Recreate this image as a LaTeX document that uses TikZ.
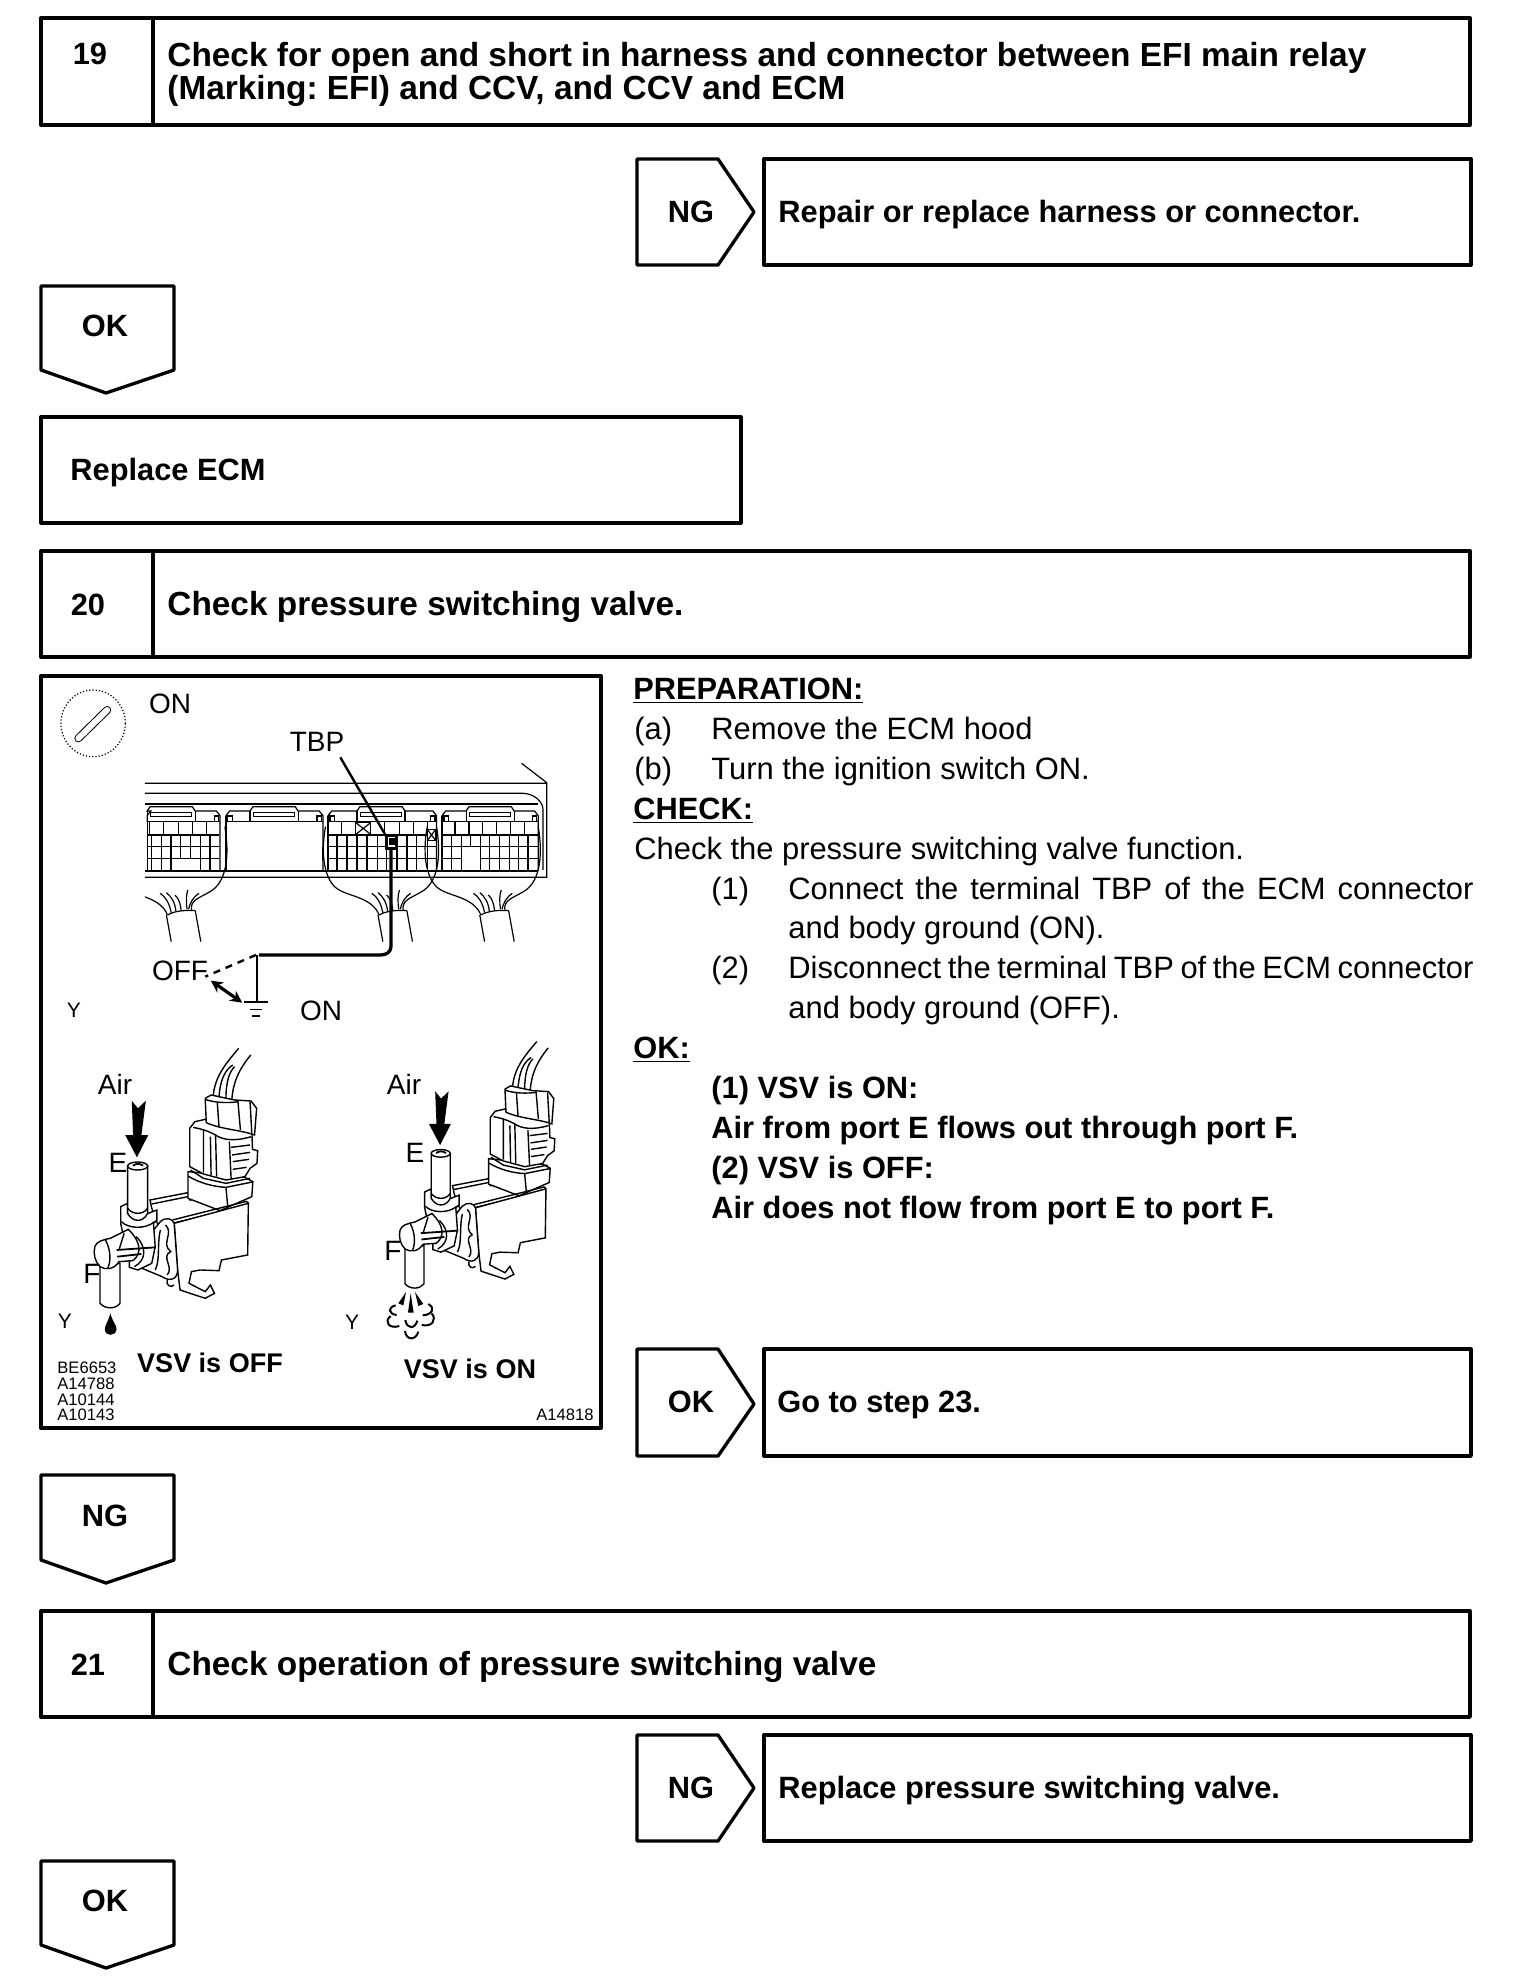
\documentclass[tikz,border=0pt]{standalone}
\usepackage{fontspec}
\usetikzlibrary{arrows.meta}
\setmainfont{Liberation Sans}
\newcommand{\ecmconn}[3]{%
 \draw[thin1] (#1,455)--(#1,437)--(#1+10,423)--(#3,423)--(#3+8,410)--(#3+122,410)--(#3+130,423)--(#2-10,423)--(#2,437)--(#2,603);
 \draw[thin1] (#3,423)--(#3,455) (#3+130,423)--(#3+130,455);
 \draw[thin1] (#3+10,428) rectangle (#3+120,440);
 \draw[thin1] (#2-16,438) rectangle (#2-4,455);
 \draw[thin1] (#1,455)--(#2,455);
 \draw[thin1] (#1,437)--(#1,603);
}
\newcommand{\harnessq}{%
 \draw[thin1] (800,470) .. controls (785,560) and (800,630) .. (830,655) .. controls (860,680) and (925,680) .. (945,735);
 \draw[thin1] (1100,470) .. controls (1115,570) and (1100,640) .. (1060,665) .. controls (1030,685) and (1005,690) .. (1010,722);
 \draw[thin1] (945,735) .. controls (965,722) and (995,720) .. (1020,722);
 \draw[thin1] (942,735) -- (955,815) (1020,722) -- (1035,815);
 \draw[thin1] (955,728) .. controls (950,700) and (940,680) .. (925,670);
 \draw[thin1] (968,725) .. controls (965,695) and (955,680) .. (942,668);
 \draw[thin1] (982,722) .. controls (980,700) and (975,685) .. (965,675);
 \draw[thin1] (998,718) .. controls (995,695) and (995,675) .. (1000,660);
 \draw[thin1] (1002,718) .. controls (1005,700) and (1015,680) .. (1030,670);
}
\newcommand{\valve}{%
 % wires
 \draw[thin2] (358,170) .. controls (362,110) and (395,70) .. (432,25);
 \draw[thin2] (375,172) .. controls (378,120) and (392,90) .. (415,75);
 \draw[thin2] (395,178) .. controls (395,125) and (405,95) .. (420,80);
 \draw[thin2] (412,182) .. controls (415,125) and (435,85) .. (467,45);
 % rear rails and body top
 \draw[thin2,fill=white] (175,480)--(285,458)--(290,480)--(340,475) .. controls (360,480) and (375,495) .. (380,515)--(200,560)--(180,505)--cycle;
 \draw[thin2] (180,492)--(285,470);
 % solenoid base
 \draw[thin2,fill=white] (285,395)--(285,475)--(378,512)--(470,470)--(473,425)--(450,412)--cycle;
 \draw[thin2] (285,408) .. controls (320,430) and (360,440) .. (395,442)--(472,426);
 \draw[thin2] (395,442)--(400,497);
 % connector body
 \draw[thin2,fill=white] (290,265)--(305,245)--(335,238)--(470,270)--(472,328)--(487,332)--(485,370)--(465,385)--(450,410)--(395,420)--(330,402)--(290,380)--cycle;
 \draw[thin2] (330,270)--(330,398) (350,290)--(352,405) (365,285)--(368,410) (405,305)--(410,416);
 \draw[thin2] (410,322)--(465,315) (413,345)--(465,337) (415,365)--(462,358) (415,388)--(455,382);
 \draw[thin2] (300,262) .. controls (340,270) and (355,280) .. (365,285) .. controls (385,300) and (420,305) .. (468,290);
 \draw[thin2] (292,390)--(330,415)--(395,430)--(465,415);
 % connector head
 \draw[thin2,fill=white] (335,175)--(352,165)--(420,180)--(468,183)--(484,205)--(478,285) .. controls (440,270) and (380,268) .. (338,248)--cycle;
 \draw[thin2] (335,178) .. controls (360,188) and (400,190) .. (432,185);
 \draw[thin2] (370,188)--(375,262) (430,186)--(437,270) (465,186)--(470,280);
 % main body
 \draw[thin2,fill=white] (245,550)--(460,490)--(458,645)--(382,660)--(375,692)--(320,690)--(295,695)--(288,730)--(335,755)--(350,735)--(362,760)--(335,775)--(262,750)--(255,690)--cycle;
 \draw[thin2] (240,540)--(455,484) (460,490)--(455,484);
 % clip
 \draw[thin2,fill=white] (205,545) .. controls (220,530) and (240,535) .. (245,550)--(255,690) .. controls (255,720) and (230,725) .. (210,710)--(140,680)--(130,640)--cycle;
 \draw[thin2] (220,555) .. controls (245,580) and (205,610) .. (235,635) .. controls (205,650) and (245,680) .. (225,705);
 \draw[thin2] (205,570) .. controls (195,610) and (205,660) .. (190,690);
 \draw[thin2] (225,720) .. controls (220,735) and (235,745) .. (245,735);
 % collar
 \draw[thin2,fill=white] (90,500)--(110,490)--(110,520)--(170,520)--(195,510)--(195,540)--(185,550)--(190,620)--(180,670)--(140,690)--(115,682)--(115,660)--(100,600)--(90,550)--cycle;
 \draw[thin2] (92,545) .. controls (110,565) and (160,570) .. (188,545);
 \draw[thin2] (135,590) .. controls (165,620) and (165,660) .. (130,680);
 % E tube
 \draw[thin2,fill=white] (110,378)--(110,520) .. controls (125,548) and (155,548) .. (168,520)--(168,378)--cycle;
 \draw[thin2,fill=white] (139,378) ellipse (29 and 12);
 \draw[line width=.9pt] (125,377) .. controls (135,370) and (145,370) .. (155,377);
 \draw[thin2] (110,505) .. controls (125,525) and (155,525) .. (168,505);
 % F tube
 \draw[thin2,fill=white] (30,670)--(30,790) .. controls (45,808) and (75,808) .. (88,790)--(88,670)--cycle;
 % F fitting
 \draw[thin2,fill=white] (15,620) .. controls (20,605) and (35,600) .. (60,595)--(112,568) .. controls (145,600) and (155,640) .. (125,662)--(85,665) .. controls (70,690) and (45,690) .. (30,680) .. controls (15,665) and (10,640) .. (15,620)--cycle;
 \draw[thin2] (45,598) .. controls (62,630) and (62,665) .. (52,686);
 \draw[line width=.9pt] (78,630)--(192,622) (80,650)--(150,642);
 \draw[thin2] (100,580)--(85,630);
 % air arrow
 \fill (122,182)--(140,205)--(163,182)--(150,285)--(170,285)--(137,352)--(103,285)--(126,285)--cycle;
}
\tikzset{
 x=.5pt,y=-.5pt,
 frame/.style={line width=1.65pt,line join=round,fill=white},
 thin1/.style={line width=.6pt},
 thin2/.style={line width=.7pt},
 thickv/.style={line width=.9pt},
 boldt/.style={inner sep=0pt,anchor=base west,font=\fontsize{15.4pt}{16pt}\selectfont\bfseries},
 title/.style={inner sep=0pt,anchor=base west,font=\fontsize{16.7pt}{18pt}\selectfont\bfseries},
 boldc/.style={inner sep=0pt,anchor=base,font=\fontsize{15.4pt}{16pt}\selectfont\bfseries},
 regt/.style={inner sep=0pt,anchor=base west,font=\fontsize{15.45pt}{16pt}\selectfont},
 lab/.style={inner sep=0pt,anchor=base,font=\fontsize{14pt}{16pt}\selectfont},
 tiny1/.style={inner sep=0pt,anchor=base,font=\fontsize{10.5pt}{12pt}\selectfont},
 code/.style={inner sep=0pt,anchor=base west,font=\fontsize{8.3pt}{9pt}\selectfont},
 vsv/.style={inner sep=0pt,anchor=base,font=\fontsize{13.5pt}{16pt}\selectfont\bfseries},
}
\begin{document}
\begin{tikzpicture}
\frenchspacing
\useasboundingbox (0,0) rectangle (1536,1980);
\fill[white] (0,0) rectangle (1536,1980);
% step 19
\draw[frame] (41,18) rectangle (1470,125);
\draw[frame] (153,18) -- (153,125);
\node[boldc] (n19) at (90,65) {19};
\node[title] (t19a) at (167,67) {Check for open and short in harness and connector between EFI main relay};
\node[title] (t19b) at (167,99) {(Marking: EFI) and CCV, and CCV and ECM};
% NG 1
\draw[frame] (637,159)--(718,159)--(754,212)--(718,265)--(637,265)--cycle;
\node[boldc] (ng1) at (691,222) {NG};
\draw[frame] (764,159) rectangle (1471,265);
\node[boldt] (r1) at (778,222) {Repair or replace harness or connector.};
% OK down 1
\draw[frame] (41,286)--(174,286)--(174,370)--(106,393)--(41,370)--cycle;
\node[boldc] (ok1) at (105,336) {OK};
% Replace ECM
\draw[frame] (41,417) rectangle (741,523);
\node[boldt] (rep) at (70,480) {Replace ECM};
% step 20
\draw[frame] (41,551) rectangle (1470,657);
\draw[frame] (153,551) -- (153,657);
\node[boldc] (n20) at (88,615) {20};
\node[title] (t20) at (167,615) {Check pressure switching valve.};
% picture frame
\draw[frame] (41,676) rectangle (601,1428);
% illustration top
\begin{scope}[shift={(29.5,670)},xscale=.37,yscale=.3333]
 \draw[thin1,densely dotted] (172,160) ellipse (87 and 100);
 \draw[line width=4pt,line cap=round] (132,205)--(210,120);
 \draw[line width=3pt,line cap=round,white] (132,205)--(210,120);
 % ECM
 \draw[thin1] (312,340)--(1398,340)--(1398,622)--(312,622) (1330,280)--(1398,338);
 \draw[thin1] (312,370)--(1335,370) .. controls (1365,372) and (1388,395) .. (1388,420)--(1388,600);
 \draw[thin1] (312,402)--(1375,402);
 \ecmconn{318}{515}{318}
 \ecmconn{531}{793}{596}
 \ecmconn{807}{1100}{885}
 \ecmconn{1115}{1375}{1180}
 \draw[thin1] (536,438) rectangle (548,455) (812,438) rectangle (824,455) (1120,438) rectangle (1132,455);
 \draw[thickv] (312,603)--(1375,603);
 \draw[thickv] (792,530)--(792,572);
 % grids
 \foreach \x in {325,363,402,440,478} \draw[thin1] (\x,455)--(\x,495);
 \foreach \y in {495,530,565} \draw[thin1] (318,\y)--(512,\y);
 \foreach \x in {330,462,488} \draw[thin1] (\x,495)--(\x,603);
 \draw[thin1] (435,495)--(435,565);
 \foreach \x in {357,382} \draw[thickv] (\x,495)--(\x,603);
 \draw[thickv] (408,495)--(408,565);
 \foreach \x in {880,920,960,1000,1037,1075} \draw[thin1] (\x,455)--(\x,495);
 \draw[thickv] (843,455)--(843,495);
 \foreach \y in {495,530,565} \draw[thin1] (807,\y)--(1100,\y);
 \foreach \x in {885,912,940,965,993,1020,1047,1075} \draw[thin1] (\x,495)--(\x,603);
 \foreach \x in {830,858} \draw[thickv] (\x,495)--(\x,603);
 \foreach \x in {1150,1225,1263,1300,1338} \draw[thin1] (\x,455)--(\x,495);
 \draw[thickv] (1187,455)--(1187,495);
 \foreach \y in {495,530} \draw[thin1] (1115,\y)--(1375,\y);
 \draw[thin1] (1115,565)--(1165,565) (1218,565)--(1375,565);
 \foreach \x in {1140,1192} \draw[thin1] (\x,495)--(\x,530);
 \foreach \x in {1168,1218,1243,1270,1297,1322} \draw[thin1] (\x,495)--(\x,603);
 \draw[thickv] (1348,495)--(1348,603);
 \draw[thin1] (1140,530)--(1140,603);
 % crossed cells
 \draw[thin1,fill=white] (882,458) rectangle (922,493);
 \draw[thin1] (882,458)--(922,493) (882,493)--(922,458);
 \draw[thin1,fill=white] (1075,478) rectangle (1098,512);
 \draw[thin1] (1075,478)--(1098,512) (1075,512)--(1098,478);
 % harnesses
 \harnessq
 \begin{scope}[xshift=137.5pt]
  \harnessq
 \end{scope}
 \begin{scope}
  \clip (312,400) rectangle (600,830);
  \begin{scope}[xshift=-286pt]
   \harnessq
  \end{scope}
 \end{scope}
 % TBP leader and wire
 \coordinate (tbpa) at (840,262);
 \coordinate (tbpb) at (966,503);
 \draw[line width=1.2pt] (tbpa)--(tbpb);
 \draw[line width=1.4pt,fill=white] (965,497) rectangle (992,535);
 \fill (971,505) rectangle (988,526);
 \draw[line width=1.65pt,line join=round] (977,535)--(977,830) .. controls (977,845) and (965,855) .. (950,855)--(620,855);
 \draw[line width=1.1pt] (615,855)--(615,995);
 \draw[line width=1.2pt,dash pattern=on 3.5pt off 3pt] (612,855)--(475,920);
 \draw[line width=1.6pt,{Stealth[length=6pt,width=6pt]}-{Stealth[length=6pt,width=6pt]}] (490,932)--(575,998);
 \draw[line width=.9pt] (580,995)--(645,995);
 \draw[thin1] (597,1018)--(628,1018) (601,1038)--(622,1038);
\end{scope}
% valves
\begin{scope}[shift={(89.65,1040)},xscale=.345,yscale=.3333]
 \valve
 \begin{scope}[shift={(885.6,-19)},scale=.95]
  \valve
 \end{scope}
 % drop
 \fill (60,820) .. controls (66,845) and (78,855) .. (78,868) .. controls (76,890) and (44,890) .. (44,868) .. controls (44,855) and (54,845) .. (60,820) -- cycle;
\end{scope}
% air puff
\begin{scope}[shift={(380,1230)},scale=.3333]
 \fill (92,190)--(101,248)--(84,248)--cycle;
 \fill (78,186)--(55,220)--(70,226)--cycle;
 \fill (105,186)--(130,222)--(115,228)--cycle;
 \draw[line width=1pt] (47,226) .. controls (22,232) and (25,252) .. (50,255);
 \draw[line width=1pt] (145,222) .. controls (168,235) and (155,255) .. (128,256);
 \draw[line width=1pt] (32,258) .. controls (10,275) and (28,298) .. (58,288);
 \draw[line width=1pt] (155,250) .. controls (172,270) and (155,292) .. (125,285);
 \draw[line width=1pt] (76,270) .. controls (80,298) and (105,298) .. (112,272);
 \draw[line width=1pt] (75,303) .. controls (78,332) and (108,332) .. (115,305);
\end{scope}
% illustration labels
\node[lab] (lon1) at (170,713) {ON};
\node[lab] (ltbp) at (317,751) {TBP};
\node[lab] (loff) at (180,980) {OFF};
\node[lab] (lon2) at (321,1020) {ON};
\node[tiny1] (ly0) at (74,1017) {Y};
\node[lab] (lair1) at (115,1094) {Air};
\node[lab] (lair2) at (404,1094) {Air};
\node[lab] (le1) at (118,1172) {E};
\node[lab] (le2) at (415,1162) {E};
\node[lab] (lf1) at (92,1283) {F};
\node[lab] (lf2) at (393,1260) {F};
\node[tiny1] (ly1) at (65,1328) {Y};
\node[tiny1] (ly2) at (352,1329) {Y};
\node[vsv] (voff) at (210,1372) {VSV is OFF};
\node[vsv] (von) at (470,1378) {VSV is ON};
\node[code] (c1) at (57,1373) {BE6653};
\node[code] (c2) at (57,1389) {A14788};
\node[code] (c3) at (57,1405) {A10144};
\node[code] (c4) at (57,1420) {A10143};
\node[code,anchor=base east] (c5) at (594,1420) {A14818};
% right column
\node[boldt] (hp) at (633,699) {\underline{PREPARATION:}};
\node[regt] (pa) at (634,739) {(a)};
\node[regt] (pat) at (711,739) {Remove the ECM hood};
\node[regt] (pb) at (634,779) {(b)};
\node[regt] (pbt) at (711,779) {Turn the ignition switch ON.};
\node[boldt] (hc) at (633,819) {\underline{CHECK:}};
\node[regt] (ck) at (634,859) {Check the pressure switching valve function.};
\node[regt] (c1n) at (711,899) {(1)};
\node[regt] (c1a) at (788,899) {\makebox[342.5pt][s]{Connect the terminal TBP of the ECM connector}};
\node[regt] (c1b) at (788,938) {and body ground (ON).};
\node[regt] (c2n) at (711,978) {(2)};
\node[regt] (c2a) at (788,978) {\makebox[342.5pt][s]{Disconnect the terminal TBP of the ECM connector}};
\node[regt] (c2b) at (788,1018) {and body ground (OFF).};
\node[boldt] (hok) at (633,1058) {\underline{OK:}};
\node[boldt] (o1) at (711,1098) {(1) VSV is ON:};
\node[boldt] (o2) at (711,1138) {Air from port E flows out through port F.};
\node[boldt] (o3) at (711,1178) {(2) VSV is OFF:};
\node[boldt] (o4) at (711,1218) {Air does not flow from port E to port F.};
% OK right
\draw[frame] (637,1349)--(718,1349)--(754,1404)--(718,1456)--(637,1456)--cycle;
\node[boldc] (ok2) at (691,1412) {OK};
\draw[frame] (764,1349) rectangle (1471,1456);
\node[boldt] (g23) at (777,1412) {Go to step 23.};
% NG down
\draw[frame] (41,1475)--(174,1475)--(174,1560)--(106,1583)--(41,1560)--cycle;
\node[boldc] (ng2) at (105,1526) {NG};
% step 21
\draw[frame] (41,1611) rectangle (1470,1717);
\draw[frame] (153,1611) -- (153,1717);
\node[boldc] (n21) at (88,1675) {21};
\node[title] (t21) at (167,1675) {Check operation of pressure switching valve};
% NG right
\draw[frame] (637,1735)--(718,1735)--(754,1788)--(718,1841)--(637,1841)--cycle;
\node[boldc] (ng3) at (691,1798) {NG};
\draw[frame] (764,1735) rectangle (1471,1841);
\node[boldt] (r3) at (778,1798) {Replace pressure switching valve.};
% OK down
\draw[frame] (41,1861)--(174,1861)--(174,1945)--(106,1968)--(41,1945)--cycle;
\node[boldc] (ok3) at (105,1911) {OK};
\end{tikzpicture}
\end{document}
